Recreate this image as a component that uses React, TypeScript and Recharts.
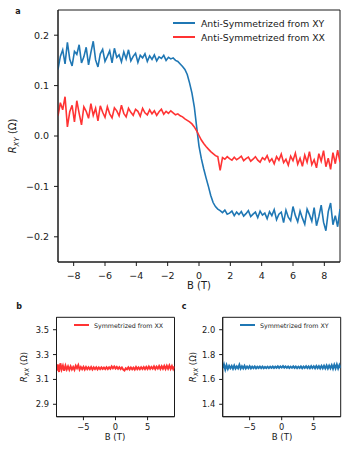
import React from "react"
import { Line, LineChart, XAxis, YAxis, ReferenceArea, Legend } from "recharts"

// panel a: field sweep grid (T)
const B_A = [
  -9, -8.85, -8.7, -8.55, -8.4, -8.25, -8.1, -7.95, -7.8, -7.65,
  -7.5, -7.35, -7.2, -7.05, -6.9, -6.75, -6.6, -6.45, -6.3, -6.15,
  -6, -5.85, -5.7, -5.55, -5.4, -5.25, -5.1, -4.95, -4.8, -4.65,
  -4.5, -4.35, -4.2, -4.05, -3.9, -3.75, -3.6, -3.45, -3.3, -3.15,
  -3, -2.85, -2.7, -2.55, -2.4, -2.25, -2.1, -1.95, -1.8, -1.65,
  -1.5, -1.35, -1.2, -1.05, -0.9, -0.75, -0.6, -0.45, -0.3, -0.15,
  0, 0.15, 0.3, 0.45, 0.6, 0.75, 0.9, 1.05, 1.2, 1.35,
  1.5, 1.65, 1.8, 1.95, 2.1, 2.25, 2.4, 2.55, 2.7, 2.85,
  3, 3.15, 3.3, 3.45, 3.6, 3.75, 3.9, 4.05, 4.2, 4.35,
  4.5, 4.65, 4.8, 4.95, 5.1, 5.25, 5.4, 5.55, 5.7, 5.85,
  6, 6.15, 6.3, 6.45, 6.6, 6.75, 6.9, 7.05, 7.2, 7.35,
  7.5, 7.65, 7.8, 7.95, 8.1, 8.25, 8.4, 8.55, 8.7, 8.85,
  9,
]

const ANTI_XY = [
  0.132, 0.158, 0.171, 0.143, 0.186, 0.152, 0.139, 0.168, 0.162, 0.181,
  0.145, 0.157, 0.176, 0.141, 0.166, 0.188, 0.151, 0.137, 0.163, 0.172,
  0.148, 0.158, 0.169, 0.145, 0.174, 0.156, 0.161, 0.147, 0.167, 0.153,
  0.171, 0.149, 0.158, 0.164, 0.146, 0.16, 0.155, 0.163, 0.148, 0.159,
  0.152, 0.161, 0.149, 0.157, 0.154, 0.16, 0.15, 0.156, 0.153, 0.155,
  0.15, 0.148, 0.143, 0.138, 0.132, 0.122, 0.105, 0.085, 0.058, 0.018,
  -0.02, -0.045, -0.065, -0.083, -0.1, -0.118, -0.132, -0.14, -0.145, -0.148,
  -0.152, -0.147, -0.155, -0.153, -0.149, -0.158, -0.151, -0.156, -0.15, -0.159,
  -0.154, -0.148, -0.16, -0.155, -0.151, -0.162, -0.149, -0.157, -0.153, -0.164,
  -0.15, -0.158, -0.146, -0.166, -0.155, -0.151, -0.172, -0.147, -0.161, -0.168,
  -0.14, -0.158, -0.17, -0.149, -0.163, -0.175, -0.145, -0.156, -0.169, -0.142,
  -0.178, -0.16, -0.137, -0.171, -0.188, -0.15, -0.133, -0.176, -0.158, -0.18,
  -0.145,
]

const ANTI_XX = [
  0.04, 0.066, 0.052, 0.078, 0.018, 0.048, 0.061, 0.028, 0.07, 0.045,
  0.022, 0.058, 0.049, 0.035, 0.064, 0.041, 0.055, 0.03, 0.06, 0.047,
  0.037, 0.058, 0.044, 0.036, 0.056, 0.05, 0.04, 0.061, 0.045, 0.038,
  0.055, 0.047, 0.041, 0.053, 0.049, 0.039, 0.055, 0.046, 0.042, 0.052,
  0.044, 0.05, 0.041, 0.048, 0.053, 0.043, 0.049, 0.045, 0.05, 0.046,
  0.042, 0.044, 0.04, 0.038, 0.034, 0.031, 0.028, 0.024, 0.018, 0.01,
  0.001, -0.008, -0.015, -0.021, -0.026, -0.031, -0.035, -0.039, -0.041, -0.068,
  -0.043, -0.046, -0.041, -0.045, -0.048, -0.042, -0.047, -0.044, -0.04, -0.049,
  -0.045, -0.042, -0.05, -0.046, -0.041, -0.048, -0.052, -0.043, -0.047, -0.039,
  -0.051, -0.045, -0.055, -0.041, -0.048, -0.036, -0.053, -0.046, -0.058, -0.04,
  -0.049, -0.034, -0.056, -0.044, -0.06, -0.038, -0.052, -0.031, -0.057, -0.047,
  -0.063, -0.035, -0.05, -0.029, -0.061, -0.044, -0.066, -0.033, -0.055, -0.028,
  -0.052,
]

// panels b, c
const B_BC = [
  -9.2, -9, -8.8, -8.6, -8.4, -8.2, -8, -7.8, -7.6, -7.4,
  -7.2, -7, -6.8, -6.6, -6.4, -6.2, -6, -5.8, -5.6, -5.4,
  -5.2, -5, -4.8, -4.6, -4.4, -4.2, -4, -3.8, -3.6, -3.4,
  -3.2, -3, -2.8, -2.6, -2.4, -2.2, -2, -1.8, -1.6, -1.4,
  -1.2, -1, -0.8, -0.6, -0.4, -0.2, 0, 0.2, 0.4, 0.6,
  0.8, 1, 1.2, 1.4, 1.6, 1.8, 2, 2.2, 2.4, 2.6,
  2.8, 3, 3.2, 3.4, 3.6, 3.8, 4, 4.2, 4.4, 4.6,
  4.8, 5, 5.2, 5.4, 5.6, 5.8, 6, 6.2, 6.4, 6.6,
  6.8, 7, 7.2, 7.4, 7.6, 7.8, 8, 8.2, 8.4, 8.6,
  8.8, 9, 9.2,
]

const SYM_XX = [
  3.17, 3.22, 3.16, 3.23, 3.18, 3.21, 3.17, 3.21, 3.18, 3.205,
  3.178, 3.205, 3.18, 3.2, 3.178, 3.21, 3.19, 3.215, 3.18, 3.2,
  3.182, 3.201, 3.18, 3.2, 3.183, 3.198, 3.182, 3.199, 3.18, 3.197,
  3.183, 3.198, 3.181, 3.196, 3.183, 3.197, 3.184, 3.196, 3.183, 3.198,
  3.184, 3.197, 3.186, 3.205, 3.19, 3.204, 3.188, 3.2, 3.185, 3.198,
  3.183, 3.196, 3.18, 3.172, 3.19, 3.182, 3.197, 3.181, 3.196, 3.182,
  3.195, 3.18, 3.2, 3.183, 3.197, 3.182, 3.198, 3.184, 3.199, 3.183,
  3.2, 3.184, 3.203, 3.185, 3.2, 3.186, 3.205, 3.184, 3.203, 3.187,
  3.207, 3.185, 3.206, 3.186, 3.208, 3.184, 3.21, 3.186, 3.212, 3.185,
  3.208, 3.183, 3.205,
]

const SYM_XY = [
  1.69, 1.72, 1.68, 1.715, 1.685, 1.71, 1.69, 1.708, 1.686, 1.712,
  1.688, 1.705, 1.69, 1.718, 1.687, 1.706, 1.689, 1.71, 1.688, 1.704,
  1.69, 1.706, 1.689, 1.703, 1.691, 1.705, 1.69, 1.702, 1.692, 1.704,
  1.691, 1.703, 1.69, 1.701, 1.692, 1.703, 1.691, 1.702, 1.693, 1.704,
  1.692, 1.703, 1.694, 1.706, 1.693, 1.705, 1.695, 1.707, 1.694, 1.705,
  1.693, 1.704, 1.692, 1.703, 1.693, 1.705, 1.692, 1.704, 1.691, 1.703,
  1.692, 1.705, 1.69, 1.704, 1.692, 1.706, 1.691, 1.705, 1.69, 1.707,
  1.692, 1.706, 1.69, 1.708, 1.691, 1.707, 1.689, 1.709, 1.69, 1.71,
  1.689, 1.712, 1.688, 1.711, 1.69, 1.715, 1.687, 1.718, 1.689, 1.72,
  1.688, 1.716, 1.69,
]

const TICKS_A_X = [-8, -6, -4, -2, 0, 2, 4, 6, 8]
const TICKS_A_Y = [-0.2, -0.1, 0, 0.1, 0.2]
const TICKS_BC_X = [-5, 0, 5]
const TICKS_B_Y = [2.9, 3.1, 3.3, 3.5]
const TICKS_C_Y = [1.4, 1.6, 1.8, 2.0]

const LEGEND_ORDER = ["Anti-Symmetrized from XY", "Anti-Symmetrized from XX"]

const BLUE = "#1f77b4"
const RED = "#ff3333"
const FONT = "DejaVu Sans"
const INK = "#1a1a1a"

const dataA = B_A.map((b, i) => ({ b, xy: ANTI_XY[i], xx: ANTI_XX[i] }))
const dataBC = B_BC.map((b, i) => ({ b, xx: SYM_XX[i], xy: SYM_XY[i] }))

const minus = (s: string) => s.replace("-", "\u2212")
const fmt1 = (v: number) => minus(v.toFixed(1))
const fmt0 = (v: number) => minus(String(v))

function legendContent(size: number, lineLen: number, rowH: number, gap: number) {
  return (props: any) => {
    const items = [...(props.payload || [])].sort(
      (a: any, b: any) => LEGEND_ORDER.indexOf(a.value) - LEGEND_ORDER.indexOf(b.value)
    )
    return (
      <div style={{ fontFamily: FONT, fontSize: size, color: INK }}>
        {items.map((p: any) => (
          <div key={p.value} style={{ display: "flex", alignItems: "center", height: rowH, whiteSpace: "nowrap" }}>
            <svg width={lineLen} height={4} style={{ marginRight: gap }}>
              <line x1={0} y1={2} x2={lineLen} y2={2} stroke={p.color} strokeWidth={2} />
            </svg>
            <span>{p.value}</span>
          </div>
        ))}
      </div>
    )
  }
}

function YLabel({ x, y, sub, size }: { x: number; y: number; sub: string; size: number }) {
  return (
    <text x={x} y={y} transform={`rotate(-90 ${x} ${y})`} textAnchor="middle" fontFamily={FONT} fontSize={size} fill={INK}>
      <tspan fontStyle="italic">R</tspan>
      <tspan fontSize={size * 0.7} dy={size * 0.25} fontStyle="italic">{sub}</tspan>
      <tspan dy={-size * 0.25}> (Ω)</tspan>
    </text>
  )
}

export default function App() {
  const tickA = { fontFamily: FONT, fontSize: 9.5, fill: INK }
  const tickBC = { fontFamily: FONT, fontSize: 8.3, fill: INK }
  return (
    <div style={{ position: "absolute", left: 0, top: 0, width: 351, height: 454, background: "#fff" }}>
      <div style={{ position: "absolute", left: 0, top: 0 }}>
        <LineChart width={351} height={290} data={dataA} margin={{ top: 10, right: 11, bottom: 0, left: 0 }}>
          <XAxis dataKey="b" type="number" domain={[-9, 9]} ticks={TICKS_A_X} tickFormatter={fmt0}
            height={28} tick={tickA} tickSize={4} tickMargin={6} stroke={INK} allowDataOverflow />
          <YAxis type="number" domain={[-0.25, 0.25]} ticks={TICKS_A_Y} tickFormatter={fmt1}
            width={58} tick={tickA} tickSize={4} tickMargin={5} stroke={INK} allowDataOverflow />
          <Line dataKey="xy" name="Anti-Symmetrized from XY" stroke={BLUE} strokeWidth={1.6} dot={false} isAnimationActive={false} />
          <Line dataKey="xx" name="Anti-Symmetrized from XX" stroke={RED} strokeWidth={1.6} dot={false} isAnimationActive={false} />
          <ReferenceArea x1={-9} x2={9} y1={-0.25} y2={0.25} fill="none" stroke={INK} strokeWidth={1} />
          <Legend layout="vertical" align="center" verticalAlign="middle"
            wrapperStyle={{ top: 16, left: 173, width: 170 }} content={legendContent(9.3, 22, 14, 6)} />
        </LineChart>
      </div>

      <div style={{ position: "absolute", left: 0, top: 300 }}>
        <LineChart width={180} height={140} data={dataBC} margin={{ top: 17.3, right: 5.5, bottom: 0, left: 0 }}>
          <XAxis dataKey="b" type="number" domain={[-9.2, 9.2]} ticks={TICKS_BC_X} tickFormatter={fmt0}
            height={23.3} tick={tickBC} tickSize={3.5} tickMargin={4} stroke={INK} allowDataOverflow />
          <YAxis type="number" domain={[2.8, 3.6]} ticks={TICKS_B_Y} tickFormatter={fmt1}
            width={56.5} tick={tickBC} tickSize={3.5} tickMargin={4} stroke={INK} allowDataOverflow />
          <Line dataKey="xx" name="Symmetrized from XX" stroke={RED} strokeWidth={2} dot={false} isAnimationActive={false} />
          <ReferenceArea x1={-9.2} x2={9.2} y1={2.8} y2={3.6} fill="none" stroke={INK} strokeWidth={1} />
          <Legend layout="vertical" align="center" verticalAlign="middle"
            wrapperStyle={{ top: 20, left: 74, width: 100 }} content={legendContent(6.3, 15, 10, 5)} />
        </LineChart>
      </div>

      <div style={{ position: "absolute", left: 170, top: 300 }}>
        <LineChart width={181} height={140} data={dataBC} margin={{ top: 17.3, right: 10.3, bottom: 0, left: 0 }}>
          <XAxis dataKey="b" type="number" domain={[-9.2, 9.2]} ticks={TICKS_BC_X} tickFormatter={fmt0}
            height={23.3} tick={tickBC} tickSize={3.5} tickMargin={4} stroke={INK} allowDataOverflow />
          <YAxis type="number" domain={[1.3, 2.1]} ticks={TICKS_C_Y} tickFormatter={fmt1}
            width={52.7} tick={tickBC} tickSize={3.5} tickMargin={4} stroke={INK} allowDataOverflow />
          <Line dataKey="xy" name="Symmetrized from XY" stroke={BLUE} strokeWidth={2} dot={false} isAnimationActive={false} />
          <ReferenceArea x1={-9.2} x2={9.2} y1={1.3} y2={2.1} fill="none" stroke={INK} strokeWidth={1} />
          <Legend layout="vertical" align="center" verticalAlign="middle"
            wrapperStyle={{ top: 20, left: 70, width: 100 }} content={legendContent(6.3, 15, 10, 5)} />
        </LineChart>
      </div>

      <svg width={351} height={454} style={{ position: "absolute", left: 0, top: 0, pointerEvents: "none" }}>
        <text x={18} y={14} textAnchor="middle" fontFamily={FONT} fontSize={8} fontWeight="bold" fill={INK}>a</text>
        <text x={19} y={309} textAnchor="middle" fontFamily={FONT} fontSize={8} fontWeight="bold" fill={INK}>b</text>
        <text x={184} y={309} textAnchor="middle" fontFamily={FONT} fontSize={8} fontWeight="bold" fill={INK}>c</text>
        <text x={199} y={289} textAnchor="middle" fontFamily={FONT} fontSize={10} fill={INK}>B (T)</text>
        <text x={115} y={440} textAnchor="middle" fontFamily={FONT} fontSize={8.6} fill={INK}>B (T)</text>
        <text x={282} y={440} textAnchor="middle" fontFamily={FONT} fontSize={8.6} fill={INK}>B (T)</text>
        <YLabel x={16} y={136} sub="XY" size={10} />
        <YLabel x={27} y={367} sub="XX" size={8.6} />
        <YLabel x={196} y={367} sub="XX" size={8.6} />
      </svg>
    </div>
  )
}
